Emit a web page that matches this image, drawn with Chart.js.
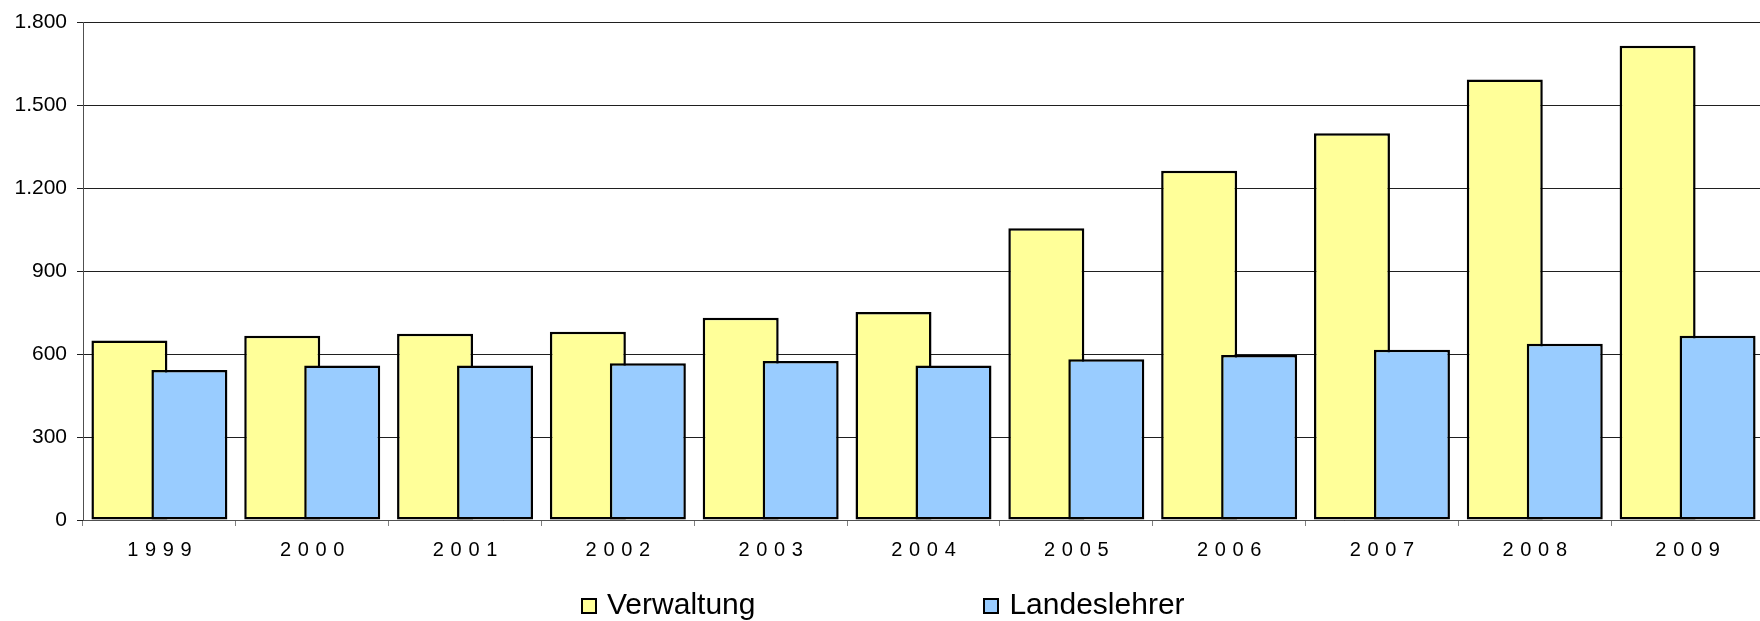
<!DOCTYPE html>
<html>
<head>
<meta charset="utf-8">
<script src="https://cdn.jsdelivr.net/npm/chart.js@4"></script>
<style>
    html, body {
        margin: 0;
        padding: 0;
        background: #fff;
        overflow: hidden;
    }
    #wrap {
        position: relative;
        width: 1764px;
        height: 621px;
    }
    #legend {
        position: absolute;
        top: 587px;
        left: 581px;
        display: flex;
        font-family: "Liberation Sans", Arial, sans-serif;
        font-size: 30px;
        color: #000;
    }
    .legend-item {
        display: flex;
        align-items: center;
        margin-right: 228px;
        white-space: nowrap;
    }
    .legend-box {
        width: 12px;
        height: 12px;
        border: 2px solid #000;
        margin-right: 10px;
        margin-top: 3px;
    }
</style>
</head>
<body>
<div id="wrap">
    <canvas id="chart"></canvas>
    <div id="legend"></div>
</div>
<script>
// Data
const years = ['1999', '2000', '2001', '2002', '2003', '2004', '2005', '2006', '2007', '2008', '2009'];
const verwaltung = [650, 667, 674, 681, 732, 753, 1056, 1264, 1400, 1594, 1716];
const landeslehrer = [543, 559, 559, 567, 575, 559, 582, 597, 616, 638, 667];
const seriesNames = ['Verwaltung', 'Landeslehrer'];

const yellow = '#FFFF99';
const blue = '#99CCFF';

// german thousands separator: 1800 -> 1.800
function formatNumber(value) {
    return String(value).replace(/\B(?=(\d{3})+(?!\d))/g, '.');
}

// spread the year digits like the original axis labels
function spreadYear(label) {
    return label.split('').join('\u2004');
}

// Chart.js paints dataset 0 on top; the original has the second series
// overlapping the first, so paint them in dataset order instead
const paintInOrder = {
    id: 'paintInOrder',
    beforeDatasetsDraw: function (chart) {
        chart.data.datasets.forEach(function (ds, i) {
            const meta = chart.getDatasetMeta(i);
            if (!meta.hidden) {
                meta.controller.draw();
            }
        });
        return false;
    }
};

const ctx = document.getElementById('chart').getContext('2d');

const chart = new Chart(ctx, {
    type: 'bar',
    data: {
        labels: years,
        datasets: [{
            label: seriesNames[0],
            data: verwaltung,
            backgroundColor: yellow,
            borderColor: '#000',
            borderWidth: 2.5,
            borderSkipped: false,
            categoryPercentage: 0.785,
            barPercentage: 1.267
        }, {
            label: seriesNames[1],
            data: landeslehrer,
            backgroundColor: blue,
            borderColor: '#000',
            borderWidth: 2.5,
            borderSkipped: false,
            categoryPercentage: 0.785,
            barPercentage: 1.267
        }]
    },
    plugins: [paintInOrder],
    options: {
        responsive: true,
        maintainAspectRatio: false,
        animation: false,
        layout: {
            padding: { top: 19, bottom: 47, left: 0, right: 0 }
        },
        plugins: {
            legend: { display: false },
            tooltip: { enabled: false }
        },
        scales: {
            x: {
                offset: true,
                grid: {
                    offset: true,
                    drawOnChartArea: false,
                    drawTicks: true,
                    tickLength: 6,
                    color: '#808080'
                },
                border: { color: '#505050', width: 1 },
                ticks: {
                    color: '#000',
                    padding: 12,
                    maxRotation: 0,
                    font: { family: '"Liberation Sans", Arial, sans-serif', size: 20 },
                    callback: function (value, index) {
                        return spreadYear(years[index]);
                    }
                }
            },
            y: {
                min: 0,
                max: 1800,
                afterFit: function (scale) {
                    scale.width = 83;
                },
                grid: {
                    color: '#1f1f1f',
                    lineWidth: 1,
                    tickLength: 6
                },
                border: { color: '#505050', width: 1 },
                ticks: {
                    stepSize: 300,
                    color: '#000',
                    padding: 10,
                    font: { family: '"Liberation Sans", Arial, sans-serif', size: 21 },
                    callback: function (value) {
                        return formatNumber(value);
                    }
                }
            }
        }
    }
});

// HTML legend built from the datasets
const legendEl = document.getElementById('legend');
chart.data.datasets.forEach(function (ds) {
    const item = document.createElement('div');
    item.className = 'legend-item';
    const box = document.createElement('span');
    box.className = 'legend-box';
    box.style.background = ds.backgroundColor;
    const text = document.createElement('span');
    text.textContent = ds.label;
    item.appendChild(box);
    item.appendChild(text);
    legendEl.appendChild(item);
});
</script>
</body>
</html>
